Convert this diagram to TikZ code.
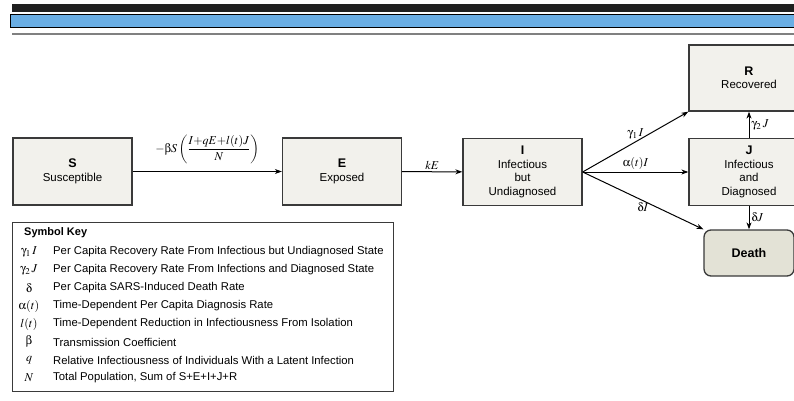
\documentclass[tikz,border=0pt]{standalone}
\usepackage{mathptmx}
\usepackage[Symbol]{upgreek}
\usepackage[no-math]{fontspec}
\setmainfont{Liberation Sans}
\usetikzlibrary{arrows.meta}
\definecolor{boxfill}{HTML}{F2F1EC}
\definecolor{deathfill}{HTML}{E3E2D6}
\definecolor{barblue}{HTML}{6AAEE4}
\definecolor{edgegray}{HTML}{3A3A3A}
\tikzset{
  state/.style={draw=edgegray,line width=1.3pt,fill=boxfill,align=center,inner sep=0pt,
    minimum width=119pt,minimum height=67pt,font=\fontsize{11.5}{13.5}\selectfont},
  flow/.style={->,line width=1pt},
  rate/.style={font=\fontsize{12}{14}\selectfont,inner sep=2pt},
  keysym/.style={font=\fontsize{12}{13}\selectfont,inner sep=0pt},
  keytext/.style={anchor=west,font=\fontsize{11.3}{12}\selectfont,inner sep=0pt},
}
\newcommand{\statehead}[1]{{\fontsize{12.5}{14}\selectfont\bfseries #1}}
\begin{document}
\begin{tikzpicture}[x=1pt,y=-1pt,>={Stealth[length=7pt,width=5pt]}]
\clip (0,0) rectangle (794,401);
\fill[white] (0,0) rectangle (794,401);
\fill[black!88] (12,4) rectangle (800,12);
\draw[fill=barblue,line width=1pt] (10,15) rectangle (800,28);
\draw[gray,line width=1.5pt] (12,34) -- (800,34);
\node[state] (S) at (72.5,171.5) {\statehead{S}\\Susceptible};
\node[state] (E) at (342,171.5) {\statehead{E}\\Exposed};
\node[state] (I) at (522.5,172) {\statehead{I}\\Infectious\\but\\Undiagnosed};
\node[state,minimum width=120pt] (J) at (749,172) {\statehead{J}\\Infectious\\and\\Diagnosed};
\node[state,minimum width=120pt,minimum height=66pt] (R) at (749,78) {\statehead{R}\\Recovered};
\node[state,fill=deathfill,rounded corners=7pt,minimum width=90pt,minimum height=46pt] (D) at (749,253) {\statehead{Death}};
\draw[flow] (S) -- (E) node[rate,midway,above=5pt] {$-\upbeta S\left(\displaystyle\frac{I{+}qE{+}l(t)J}{N}\right)$};
\draw[flow] (E) -- (I) node[rate,midway,above] {$kE$};
\draw[flow] (I.east) -- (R.south west) node[rate,midway,above] {$\upgamma_1\,I$};
\draw[flow] (I) -- (J) node[rate,midway,above] {$\upalpha(t)I$};
\draw[flow] (I.east) -- (D.north west) node[rate,midway,below] {$\updelta I$};
\draw[flow] (J) -- (R) node[rate,midway,right] {$\upgamma_2\,J$};
\draw[flow] (J) -- (D) node[rate,midway,right] {$\updelta J$};
\node[draw=edgegray,line width=1pt,anchor=north west,minimum width=381pt,minimum height=169pt] (key) at (12,222) {};
\node[keytext,font=\fontsize{11}{12}\selectfont\bfseries] (keytitle) at (24,233) {Symbol Key};
\node[keysym] (s1) at (29,252) {$\upgamma_1\,I$};
\node[keytext] (t1) at (53,252) {Per Capita Recovery Rate From Infectious but Undiagnosed State};
\node[keysym] (s2) at (29,270) {$\upgamma_2\,J$};
\node[keytext] (t2) at (53,270) {Per Capita Recovery Rate From Infections and Diagnosed State};
\node[keysym] (s3) at (29,288) {$\updelta$};
\node[keytext] (t3) at (53,288) {Per Capita SARS-Induced Death Rate};
\node[keysym] (s4) at (29,306) {$\upalpha(t)$};
\node[keytext] (t4) at (53,306) {Time-Dependent Per Capita Diagnosis Rate};
\node[keysym] (s5) at (29,324) {$l(t)$};
\node[keytext] (t5) at (53,324) {Time-Dependent Reduction in Infectiousness From Isolation};
\node[keysym] (s6) at (29,342) {$\upbeta$};
\node[keytext] (t6) at (53,342) {Transmission Coefficient};
\node[keysym] (s7) at (29,360) {$q$};
\node[keytext] (t7) at (53,360) {Relative Infectiousness of Individuals With a Latent Infection};
\node[keysym] (s8) at (29,378) {$N$};
\node[keytext] (t8) at (53,378) {Total Population, Sum of S+E+I+J+R};
\end{tikzpicture}
\end{document}
